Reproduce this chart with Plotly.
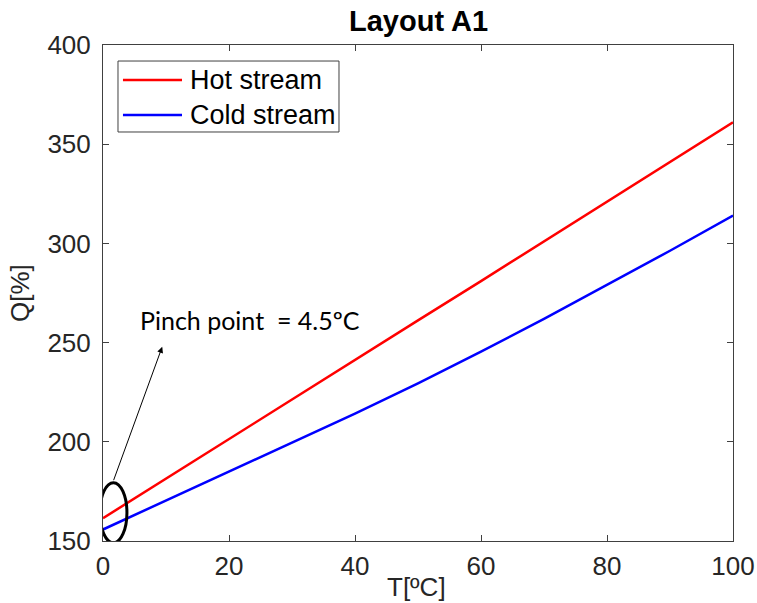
import plotly.graph_objects as go

T = [0, 10, 20, 30, 40, 50, 60, 70, 80, 90, 100]
hot_Q = [161.5, 181.5, 201.5, 221.5, 241.3, 261.2, 281.0, 301.0, 321.0, 341.0, 361.0]
cold_Q = [155.8, 170.3, 184.8, 199.3, 214.2, 229.5, 245.4, 262.0, 279.0, 296.3, 314.0]
x_ticks = [0, 20, 40, 60, 80, 100]
y_ticks = [150, 200, 250, 300, 350, 400]
series_names = ["Hot stream", "Cold stream"]
series_colors = ["#FF0000", "#0000FF"]

fig = go.Figure()
for name, ys, col in zip(series_names, [hot_Q, cold_Q], series_colors):
    fig.add_trace(go.Scatter(x=T, y=ys, mode="lines", name=name,
                             line=dict(color=col, width=2.5), showlegend=False))

axis_common = dict(showline=True, linecolor="#404040", linewidth=1, mirror="ticks",
                   ticks="inside", ticklen=6, tickcolor="#404040", showgrid=False,
                   zeroline=False, automargin=False,
                   tickfont=dict(family="Liberation Sans", size=26, color="#262626"))
fig.update_xaxes(range=[0, 100], tickvals=x_ticks, ticklabelstandoff=2, **axis_common)
fig.update_yaxes(range=[150, 400], tickvals=y_ticks, ticklabelstandoff=6, **axis_common)

# pinch ellipse
fig.add_shape(type="circle", xref="x", yref="y", x0=-0.5, x1=3.8, y0=149.1, y1=179.4,
              line=dict(color="black", width=3))
# arrow
fig.add_annotation(x=9.4, y=247.9, ax=1.6, ay=179.9, xref="x", yref="y", axref="x", ayref="y",
                   text="", showarrow=True, arrowhead=2, arrowsize=1.2, arrowwidth=1, arrowcolor="black")
fig.add_annotation(x=5.6, y=261.4, xref="x", yref="y", text="Pinch point  = 4.5ºC",
                   showarrow=False, xanchor="left", yanchor="middle",
                   font=dict(family="Lato", size=25, color="black"))

# manual legend
fig.add_shape(type="rect", xref="paper", yref="paper", x0=0.0238, x1=0.3746, y0=0.8246, y1=0.9677,
              line=dict(color="#404040", width=1), fillcolor="white", layer="above")
for i, (name, col) in enumerate(zip(series_names, series_colors)):
    yy = [0.9294, 0.8589][i]
    fig.add_shape(type="line", xref="paper", yref="paper", x0=0.0317, x1=0.1254, y0=yy, y1=yy,
                  line=dict(color=col, width=2.5), layer="above")
    fig.add_annotation(x=0.1349, y=yy, xref="paper", yref="paper", text=name, showarrow=False,
                       xanchor="left", yanchor="middle",
                       font=dict(family="Liberation Sans", size=27, color="black"))

# title and axis titles
fig.add_annotation(x=0.5, y=1.048, xref="paper", yref="paper", text="<b>Layout A1</b>",
                   showarrow=False, xanchor="center", yanchor="middle",
                   font=dict(family="Liberation Sans", size=29, color="black"))
fig.add_annotation(x=-0.1317, y=0.5, xref="paper", yref="paper", text="Q[%]", textangle=-90,
                   showarrow=False, xanchor="center", yanchor="middle",
                   font=dict(family="Liberation Sans", size=26, color="#262626"))
fig.add_annotation(x=0.497, y=-0.0927, xref="paper", yref="paper", text="T[ºC]",
                   showarrow=False, xanchor="center", yanchor="middle",
                   font=dict(family="Liberation Sans", size=26, color="#262626"))

fig.update_layout(
    width=757, height=603,
    margin=dict(l=103, r=24, t=45, b=62),
    paper_bgcolor="white", plot_bgcolor="white",
    showlegend=False,
)
fig.write_html("out.html", config={"displayModeBar": False},
               post_script="document.body.style.margin='0';")
